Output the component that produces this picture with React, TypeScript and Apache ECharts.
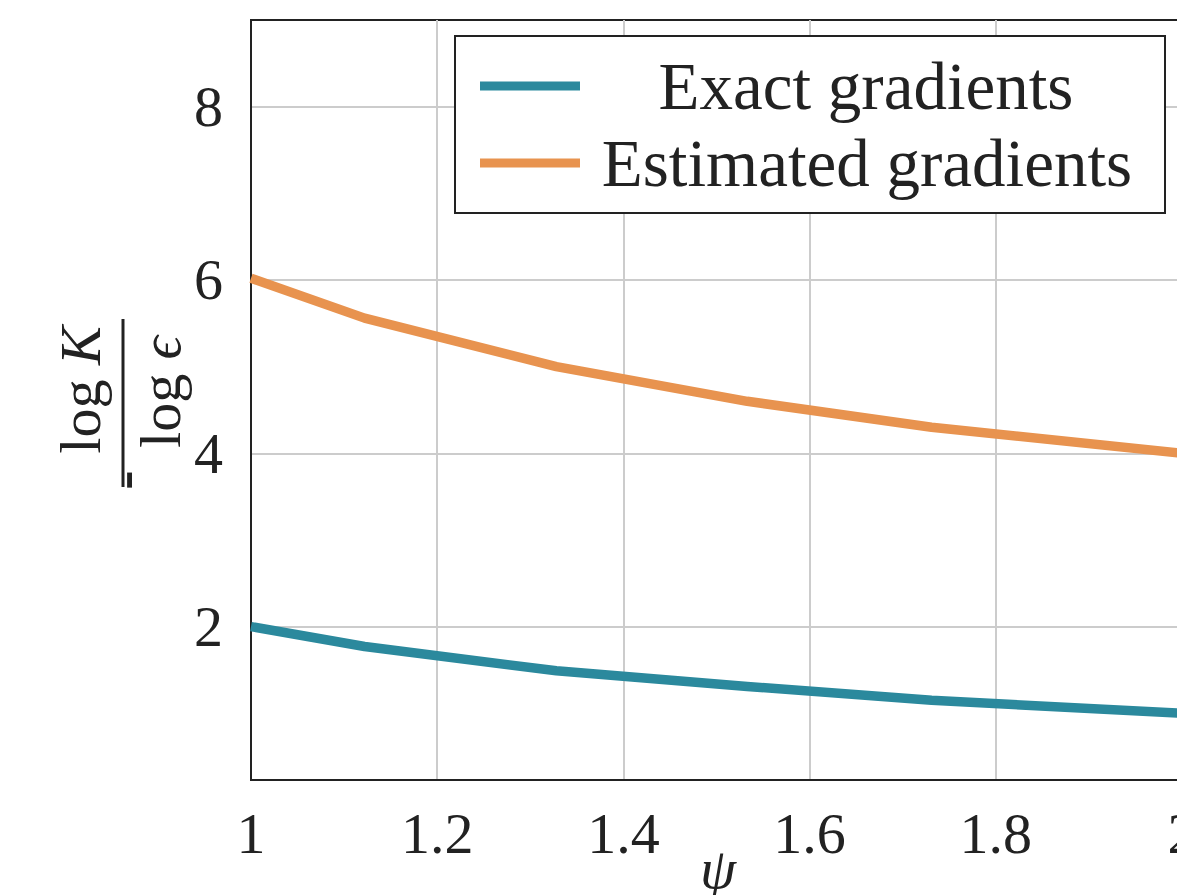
import React, { useEffect, useRef } from "react";
import * as echarts from "echarts";

const psi = [1, 1.122, 1.328, 1.533, 1.731, 2.0];
const exactGradients = [2.0, 1.77, 1.49, 1.31, 1.15, 1.0];
const estimatedGradients = [6.02, 5.56, 5.0, 4.6, 4.3, 4.0];
const yTicks = [2, 4, 6, 8];
const seriesNames = ["Exact gradients", "Estimated gradients"];
const colors = ["#2B899D", "#E8934F"];

const FONT = "'Liberation Serif', 'DejaVu Serif', serif";

export default function App() {
  const ref = useRef<HTMLDivElement>(null);
  useEffect(() => {
    document.body.style.margin = "0";
    document.body.style.overflow = "hidden";
    const chart = echarts.init(ref.current!, null, { renderer: "svg" });
    const lineData = (ys: number[]) => psi.map((x, i) => [x, ys[i]]);
    chart.setOption({
      animation: false,
      backgroundColor: "#ffffff",
      grid: {
        left: 251,
        right: 18,
        top: 20,
        bottom: 115,
        show: true,
        borderColor: "#222",
        borderWidth: 2,
        containLabel: false,
        outerBoundsMode: "none",
      },
      xAxis: {
        type: "value",
        min: 1,
        max: 2,
        interval: 0.2,
        axisLine: { show: true, lineStyle: { color: "#222", width: 2 } },
        axisTick: { show: false },
        axisLabel: {
          fontFamily: FONT,
          fontSize: 58,
          color: "#222",
          margin: 24,
          formatter: (v: number) => String(Math.round(v * 10) / 10),
        },
        splitLine: { show: true, lineStyle: { color: "#cccccc", width: 2 } },
      },
      yAxis: {
        type: "value",
        min: 0.23,
        max: 9,
        axisLine: { show: true, lineStyle: { color: "#222", width: 2 } },
        axisTick: { show: false, customValues: yTicks },
        axisLabel: {
          customValues: yTicks,
          fontFamily: FONT,
          fontSize: 58,
          color: "#222",
          margin: 28,
        },
        splitLine: { show: true, lineStyle: { color: "#cccccc", width: 2 } },
      },
      series: [
        {
          name: seriesNames[0],
          type: "line",
          data: lineData(exactGradients),
          showSymbol: false,
          lineStyle: { color: colors[0], width: 9.5, join: "round" },
          itemStyle: { color: colors[0] },
          z: 3,
        },
        {
          name: seriesNames[1],
          type: "line",
          data: lineData(estimatedGradients),
          showSymbol: false,
          lineStyle: { color: colors[1], width: 9.5, join: "round" },
          itemStyle: { color: colors[1] },
          z: 3,
        },
      ],
      graphic: [
        {
          type: "rect",
          z: 10,
          shape: { x: 455, y: 36, width: 710, height: 177 },
          style: { fill: "#ffffff", stroke: "#222", lineWidth: 2 },
        },
        {
          type: "line",
          z: 11,
          shape: { x1: 480, y1: 86, x2: 580, y2: 86 },
          style: { stroke: colors[0], lineWidth: 9 },
        },
        {
          type: "line",
          z: 11,
          shape: { x1: 480, y1: 163, x2: 580, y2: 163 },
          style: { stroke: colors[1], lineWidth: 9 },
        },
        {
          type: "text",
          z: 11,
          x: 866,
          y: 86,
          style: { text: seriesNames[0], fontFamily: FONT, fontSize: 67, fill: "#222", align: "center", verticalAlign: "middle" },
        },
        {
          type: "text",
          z: 11,
          x: 867,
          y: 163,
          style: { text: seriesNames[1], fontFamily: FONT, fontSize: 67, fill: "#222", align: "center", verticalAlign: "middle" },
        },
        {
          type: "text",
          x: 718,
          y: 868,
          style: { text: "ψ", fontFamily: FONT, fontSize: 58, fontStyle: "italic", fill: "#222", align: "center", verticalAlign: "middle" },
        },
        {
          type: "text",
          x: 80,
          y: 390,
          rotation: Math.PI / 2,
          style: {
            text: "{n|log }{i|K}",
            align: "center",
            verticalAlign: "middle",
            rich: {
              n: { fontFamily: FONT, fontSize: 58, fill: "#222" },
              i: { fontFamily: FONT, fontSize: 58, fontStyle: "italic", fill: "#222" },
            },
          },
        },
        {
          type: "text",
          x: 160,
          y: 392,
          rotation: Math.PI / 2,
          style: {
            text: "{n|log }{i|ϵ}",
            align: "center",
            verticalAlign: "middle",
            rich: {
              n: { fontFamily: FONT, fontSize: 58, fill: "#222" },
              i: { fontFamily: FONT, fontSize: 58, fontStyle: "italic", fill: "#222" },
            },
          },
        },
        {
          type: "line",
          shape: { x1: 123, y1: 319, x2: 123, y2: 487 },
          style: { stroke: "#222", lineWidth: 3 },
        },
        {
          type: "text",
          x: 123,
          y: 480,
          rotation: Math.PI / 2,
          style: { text: "-", fontFamily: FONT, fontSize: 58, fontWeight: "bold", fill: "#222", align: "center", verticalAlign: "middle" },
        },
      ],
    });
    return () => chart.dispose();
  }, []);
  return (
    <div style={{ width: 1177, height: 895, overflow: "hidden", position: "relative" }}>
      <div ref={ref} style={{ width: 1200, height: 895 }} />
    </div>
  );
}
